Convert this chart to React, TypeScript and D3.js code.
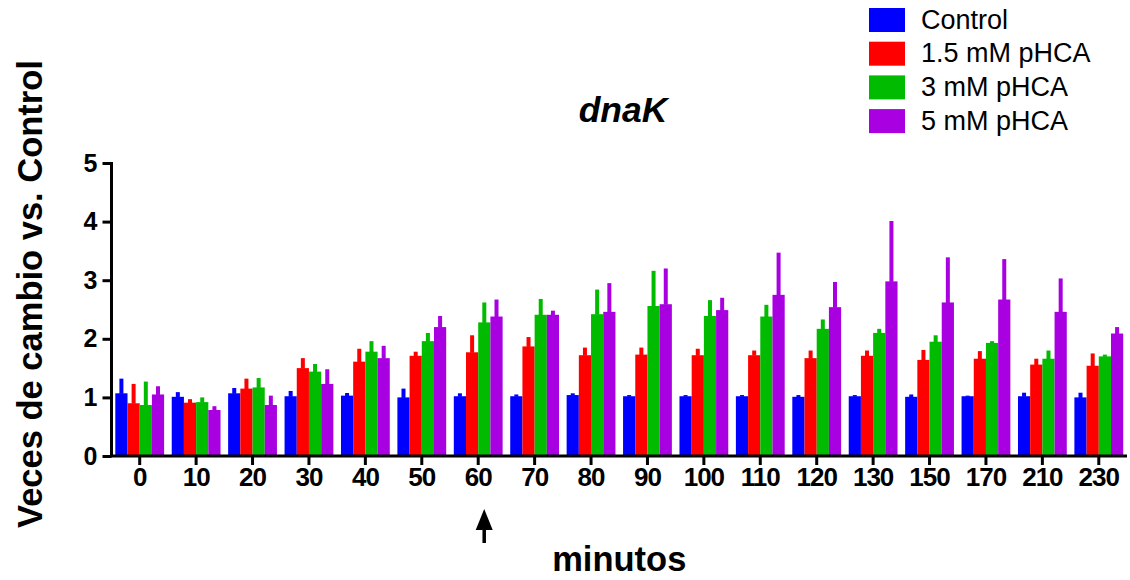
import React, { useEffect, useRef } from "react";
import * as d3 from "d3";

const categories = ["0", "10", "20", "30", "40", "50", "60", "70", "80", "90", "100", "110", "120", "130", "150", "170", "210", "230"];
const seriesNames = ["Control", "1.5 mM pHCA", "3 mM pHCA", "5 mM pHCA"];
const seriesColors = ["#0000ff", "#ff0000", "#00bb00", "#a800e0"];

const controlMean = [1.07, 1.01, 1.07, 1.02, 1.03, 1.0, 1.02, 1.02, 1.04, 1.02, 1.02, 1.02, 1.01, 1.02, 1.01, 1.02, 1.02, 1.0];
const controlSD = [0.25, 0.08, 0.09, 0.09, 0.045, 0.15, 0.05, 0.03, 0.03, 0.02, 0.02, 0.02, 0.03, 0.02, 0.04, 0.01, 0.06, 0.08];
const mM15Mean = [0.9, 0.91, 1.15, 1.5, 1.61, 1.71, 1.77, 1.87, 1.72, 1.73, 1.72, 1.72, 1.67, 1.71, 1.64, 1.66, 1.56, 1.54];
const mM15SD = [0.33, 0.06, 0.17, 0.17, 0.22, 0.07, 0.29, 0.16, 0.13, 0.12, 0.11, 0.08, 0.13, 0.09, 0.17, 0.13, 0.1, 0.21];
const mM3Mean = [0.87, 0.92, 1.17, 1.44, 1.78, 1.96, 2.28, 2.41, 2.42, 2.56, 2.39, 2.38, 2.17, 2.1, 1.95, 1.93, 1.66, 1.7];
const mM3SD = [0.4, 0.08, 0.16, 0.13, 0.18, 0.14, 0.34, 0.27, 0.42, 0.6, 0.27, 0.2, 0.16, 0.07, 0.11, 0.03, 0.14, 0.03];
const mM5Mean = [1.05, 0.785, 0.87, 1.23, 1.67, 2.2, 2.38, 2.41, 2.46, 2.59, 2.49, 2.75, 2.54, 2.98, 2.62, 2.67, 2.46, 2.09];
const mM5SD = [0.14, 0.065, 0.16, 0.25, 0.21, 0.19, 0.29, 0.07, 0.49, 0.61, 0.21, 0.72, 0.43, 1.03, 0.77, 0.69, 0.57, 0.11];

const yTicks = [0, 1, 2, 3, 4, 5];

const FONT = "'Liberation Sans', Arial, Helvetica, sans-serif";

export default function App() {
  const ref = useRef<SVGSVGElement | null>(null);

  useEffect(() => {
    const svg = d3.select(ref.current);
    svg.selectAll("*").remove();

    const means = [controlMean, mM15Mean, mM3Mean, mM5Mean];
    const sds = [controlSD, mM15SD, mM3SD, mM5SD];

    const left = 111.5, right = 1127, top = 163, bottom = 456;

    const x = d3.scaleBand<string>().domain(categories).range([left, right]).paddingInner(0.135).paddingOuter(0.0675);
    const xi = d3.scaleBand<string>().domain(seriesNames).range([0, x.bandwidth()]);
    const y = d3.scaleLinear().domain([0, 5]).range([bottom, top]);

    const data = categories.flatMap((c, ci) =>
      seriesNames.map((s, si) => ({ c, s, si, v: means[si][ci], e: sds[si][ci] }))
    );

    const g = svg.append("g");

    // bars
    g.selectAll("rect.bar")
      .data(data)
      .join("rect")
      .attr("class", "bar")
      .attr("x", (d) => (x(d.c) as number) + (xi(d.s) as number))
      .attr("width", xi.bandwidth())
      .attr("y", (d) => y(d.v))
      .attr("height", (d) => y(0) - y(d.v))
      .attr("fill", (d) => seriesColors[d.si]);

    // error bars (upper only)
    const ew = 4;
    g.selectAll("rect.err")
      .data(data)
      .join("rect")
      .attr("class", "err")
      .attr("x", (d) => (x(d.c) as number) + (xi(d.s) as number) + xi.bandwidth() / 2 - ew / 2)
      .attr("width", ew)
      .attr("y", (d) => y(d.v + d.e))
      .attr("height", (d) => y(d.v) - y(d.v + d.e) + 0.5)
      .attr("fill", (d) => seriesColors[d.si]);

    // y axis
    const ya = svg
      .append("g")
      .attr("transform", `translate(${left},0)`)
      .call(d3.axisLeft(y).tickValues(yTicks).tickFormat(d3.format("d")).tickSize(9).tickPadding(5));
    ya.select(".domain").attr("stroke", "#000").attr("stroke-width", 3).attr("d", `M0,${top - 1}V${bottom}`);
    ya.selectAll(".tick line").attr("stroke", "#000").attr("stroke-width", 3);
    ya.selectAll(".tick text")
      .attr("font-family", FONT)
      .attr("font-size", 25)
      .attr("font-weight", "bold")
      .attr("fill", "#000");

    // x axis
    const xa = svg
      .append("g")
      .attr("transform", `translate(0,${bottom})`)
      .call(d3.axisBottom(x).tickSize(9).tickPadding(3));
    xa.select(".domain").attr("stroke", "#000").attr("stroke-width", 3).attr("d", `M${left - 1.5},0H${right}`);
    xa.selectAll(".tick line").attr("stroke", "#000").attr("stroke-width", 3);
    xa.selectAll(".tick text")
      .attr("font-family", FONT)
      .attr("font-size", 26)
      .attr("letter-spacing", -1)
      .attr("font-weight", "bold")
      .attr("fill", "#000");

    // title
    svg
      .append("text")
      .attr("x", 623)
      .attr("y", 122)
      .attr("text-anchor", "middle")
      .attr("font-family", FONT)
      .attr("font-size", 35.5)
      .attr("font-weight", "bold")
      .attr("font-style", "italic")
      .text("dnaK");

    // axis titles
    svg
      .append("text")
      .attr("transform", `translate(42,294) rotate(-90)`)
      .attr("text-anchor", "middle")
      .attr("font-family", FONT)
      .attr("font-size", 34.5)
      .attr("font-weight", "bold")
      .text("Veces de cambio vs. Control");

    svg
      .append("text")
      .attr("x", (left + right) / 2)
      .attr("y", 571)
      .attr("text-anchor", "middle")
      .attr("font-family", FONT)
      .attr("font-size", 34.5)
      .attr("font-weight", "bold")
      .text("minutos");

    // arrow under 60
    const ax = (x("60") as number) + x.bandwidth() / 2 + 6;
    const arrow = svg.append("g");
    arrow
      .append("path")
      .attr("d", `M${ax},509L${ax - 8.5},530L${ax + 8.5},530Z`)
      .attr("fill", "#000");
    arrow
      .append("rect")
      .attr("x", ax - 1.75)
      .attr("y", 528)
      .attr("width", 3.5)
      .attr("height", 15)
      .attr("fill", "#000");

    // legend
    const lg = svg.append("g").attr("transform", "translate(869,8)");
    const items = lg
      .selectAll("g")
      .data(seriesNames)
      .join("g")
      .attr("transform", (_d, i) => `translate(0,${i * 33.7})`);
    items
      .append("rect")
      .attr("width", 36)
      .attr("height", 24)
      .attr("fill", (_d, i) => seriesColors[i]);
    items
      .append("text")
      .attr("x", 52)
      .attr("y", 20.5)
      .attr("font-family", FONT)
      .attr("font-size", 27)
      .attr("fill", "#000")
      .text((d) => d);
  }, []);

  return (
    <svg
      ref={ref}
      width={1130}
      height={580}
      style={{ position: "absolute", left: 0, top: 0, background: "#fff" }}
    />
  );
}
